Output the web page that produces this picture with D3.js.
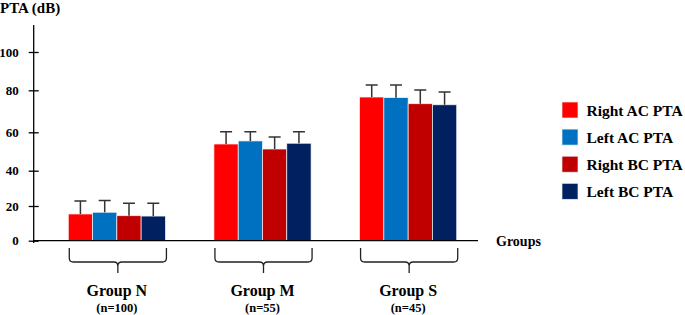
<!DOCTYPE html>
<html>
<head>
<meta charset="utf-8">
<script src="https://cdn.jsdelivr.net/npm/d3@7"></script>
<style>
  body { margin: 0; background: #fff; }
  text { font-family: "Liberation Serif", "Times New Roman", serif; font-weight: bold; fill: #000; }
</style>
</head>
<body>
<div class="chart"></div>
<script>
// groups, sample sizes and series
const groups = ["Group N", "Group M", "Group S"];
const groupSizes = ["(n=100)", "(n=55)", "(n=45)"];
const series = ["Right AC PTA", "Left AC PTA", "Right BC PTA", "Left BC PTA"];

// mean PTA (dB) per group, one array per series
const rightAC = [15.4, 53.9, 76.8];
const leftAC = [16.4, 55.5, 76.5];
const rightBC = [14.4, 51.3, 73.6];
const leftBC = [14.2, 54.3, 73.1];

// standard deviations (upper error bars)
const rightACsd = [7.5, 6.4, 6.0];
const leftACsd = [6.7, 4.8, 6.3];
const rightBCsd = [7.1, 6.3, 6.5];
const leftBCsd = [7.3, 6.0, 6.1];

const yTicks = [0, 20, 40, 60, 80, 100];
const colors = ["#ff0000", "#0070c0", "#c00000", "#002060"];

const means = [rightAC, leftAC, rightBC, leftBC];
const sds = [rightACsd, leftACsd, rightBCsd, leftBCsd];

// flat table for the bars
const rows = [];
groups.forEach((g, gi) => {
    series.forEach((s, si) => {
        rows.push({ group: g, series: s, value: means[si][gi], sd: sds[si][gi] });
    });
});

const width = 685;
const height = 315;

const svg = d3.select(".chart")
                .append("svg")
                .attr("width", width)
                .attr("height", height);

// X scales
const x0 = d3.scaleBand()
            .domain(groups)
            .range([44, 481])
            .paddingInner(0.333)
            .paddingOuter(0.1667);
const x1 = d3.scaleBand()
            .domain(series)
            .range([0, x0.bandwidth()]);

// Y scale (the original axis is not evenly spaced)
const y = d3.scaleLinear()
            .domain(yTicks)
            .range([240.7, 206, 170.7, 132.3, 90.3, 52]);

const color = d3.scaleOrdinal().domain(series).range(colors);

const axisX = 33.7;

// Y axis
const yAxis = svg.append("g")
            .attr("transform", `translate(${axisX}, 0)`)
            .call(d3.axisLeft(y).tickValues(yTicks).tickSize(5).tickPadding(10));
yAxis.select(".domain").remove();
yAxis.selectAll(".tick line")
    .attr("x1", -5).attr("x2", 5)
    .attr("stroke", "#000").attr("stroke-width", 1.3);
yAxis.selectAll(".tick text")
    .style("font-size", "13px")
    .attr("fill", "#000");
yAxis.append("line")
    .attr("x1", 0).attr("x2", 0)
    .attr("y1", 25).attr("y2", 243)
    .attr("stroke", "#000").attr("stroke-width", 1.3);

svg.append("text")
    .attr("x", 0).attr("y", 13)
    .style("font-size", "15px")
    .text("PTA (dB)");

// Bars
const gGroups = svg.append("g")
    .selectAll("g")
    .data(groups)
    .join("g")
    .attr("transform", d => `translate(${x0(d)}, 0)`);

gGroups.selectAll("rect")
    .data(g => rows.filter(r => r.group === g))
    .join("rect")
        .attr("x", d => x1(d.series))
        .attr("y", d => y(d.value))
        .attr("width", x1.bandwidth())
        .attr("height", d => y(0) - y(d.value))
        .attr("fill", d => color(d.series))
        .attr("stroke", "#f4f4f4")
        .attr("stroke-width", 0.7);

// Error bars
const capW = 12;
gGroups.selectAll("path.err")
    .data(g => rows.filter(r => r.group === g))
    .join("path")
        .attr("class", "err")
        .attr("fill", "none")
        .attr("stroke", "#333")
        .attr("stroke-width", 1.5)
        .attr("d", d => {
            const cx = x1(d.series) + x1.bandwidth() / 2;
            const top = y(d.value + d.sd);
            return `M${cx},${y(d.value)}V${top}M${cx - capW / 2},${top}H${cx + capW / 2}`;
        });

// X axis line
svg.append("line")
    .attr("x1", axisX).attr("x2", 478)
    .attr("y1", y(0)).attr("y2", y(0))
    .attr("stroke", "#000").attr("stroke-width", 1.3);

svg.append("text")
    .attr("x", 496).attr("y", 246)
    .style("font-size", "14px")
    .text("Groups");

// Brackets under each group
const bTop = 248, bMid = 262, bTip = 273, r = 4;
svg.append("g")
    .selectAll("path")
    .data(groups)
    .join("path")
        .attr("fill", "none")
        .attr("stroke", "#222")
        .attr("stroke-width", 1.3)
        .attr("d", g => {
            const a = x0(g) + 1, b = x0(g) + x0.bandwidth() + 1, c = (a + b) / 2;
            return `M${a},${bTop}V${bMid - r}Q${a},${bMid} ${a + r},${bMid}H${c - r}Q${c},${bMid} ${c},${bMid + r}V${bTip}` +
                   `M${c},${bMid + r}Q${c},${bMid} ${c + r},${bMid}H${b - r}Q${b},${bMid} ${b},${bMid - r}V${bTop}`;
        });

// Group labels
svg.append("g")
    .selectAll("text")
    .data(groups)
    .join("text")
        .attr("x", g => x0(g) + x0.bandwidth() / 2)
        .attr("y", 295.5)
        .attr("text-anchor", "middle")
        .style("font-size", "16px")
        .text(g => g);

svg.append("g")
    .selectAll("text")
    .data(groupSizes)
    .join("text")
        .attr("x", (d, i) => x0(groups[i]) + x0.bandwidth() / 2)
        .attr("y", 311.5)
        .attr("text-anchor", "middle")
        .style("font-size", "12.5px")
        .text(d => d);

// Legend
const legend = svg.append("g")
    .selectAll("g")
    .data(series)
    .join("g")
    .attr("transform", (d, i) => `translate(562, ${102 + i * 27.1})`);

legend.append("rect")
    .attr("width", 16).attr("height", 16)
    .attr("fill", d => color(d))
    .attr("stroke", "#eee").attr("stroke-width", 0.7);

legend.append("text")
    .attr("x", 24.5).attr("y", 13.7)
    .style("font-size", "15.5px")
    .text(d => d);
</script>
</body>
</html>
